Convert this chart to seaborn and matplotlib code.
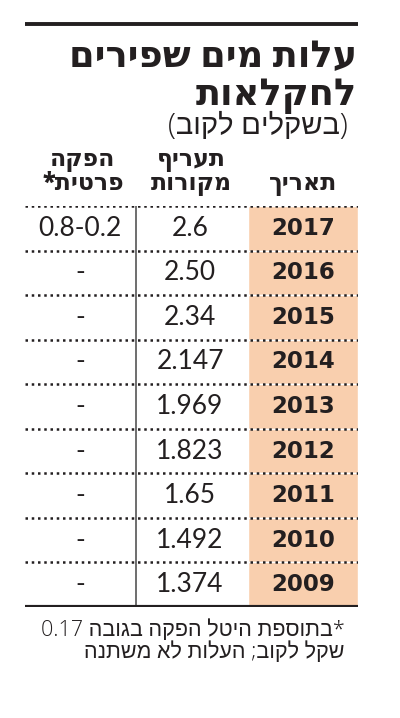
import re
import matplotlib
matplotlib.use("Agg")
import matplotlib.pyplot as plt
import seaborn as sns

# table data (logical Hebrew order, flipped for display below)
years = ["2017", "2016", "2015", "2014", "2013", "2012", "2011", "2010", "2009"]
tariff = ["2.6", "2.50", "2.34", "2.147", "1.969", "1.823", "1.65", "1.492", "1.374"]
private = ["0.2-0.8", "-", "-", "-", "-", "-", "-", "-", "-"]

title_lines = ["עלות מים שפירים", "לחקלאות"]
subtitle = "(בשקלים לקוב)"
col_headers = ["תאריך", "תעריף\nמקורות", "הפקה\nפרטית*"]
footnote = ["*בתוספת היטל הפקה בגובה 0.17", "שקל לקוב; העלות לא משתנה"]

MIRROR = str.maketrans("()", ")(")


def rtl(s):
    # matplotlib has no bidi support: reverse Hebrew runs, keep numbers
    toks = re.findall(r"[0-9][0-9.]*|[^0-9]+", s)
    out = []
    for t in reversed(toks):
        out.append(t if t[0].isdigit() else t[::-1].translate(MIRROR))
    return "".join(out)


sns.set_theme(style="white")
plt.rcParams["font.family"] = ["DejaVu Sans"]
heavy = ["Open Sans", "DejaVu Sans"]
light = ["Open Sans", "Liberation Sans", "DejaVu Sans"]
nums = ["Lato", "DejaVu Sans"]

ink = "#231f20"
peach = "#f9cfae"

fig = plt.figure(figsize=(4, 7.18), dpi=100)
ax = fig.add_axes([0, 0, 1, 1])
ax.set_xlim(0, 400)
ax.set_ylim(718, 0)
ax.axis("off")

# top rule
ax.plot([25, 358], [24, 24], color=ink, lw=2.8, solid_capstyle="butt")

# title
ax.text(357, 58, rtl(title_lines[0]), ha="right", va="center",
        fontsize=26.5, fontweight=800, family=heavy, color=ink)
ax.text(357, 95, rtl(title_lines[1]), ha="right", va="center",
        fontsize=26.5, fontweight=800, family=heavy, color=ink)
ax.text(348, 126, rtl(subtitle), ha="right", va="center",
        fontsize=21, fontweight="light", family=light, color=ink)

# column headers
hx = [303, 191, 83]
for x, h in zip(hx, col_headers):
    lines = h.split("\n")
    if len(lines) == 1:
        ax.text(x, 183, rtl(lines[0]), ha="center", va="center",
                fontsize=17, fontweight=800, family=heavy, color=ink)
    else:
        ax.text(x, 159, rtl(lines[0]), ha="center", va="center",
                fontsize=17, fontweight=800, family=heavy, color=ink)
        ax.text(x, 183, rtl(lines[1]), ha="center", va="center",
                fontsize=17, fontweight=800, family=heavy, color=ink)

# table body
tab = fig.add_axes([25 / 400, 1 - 607 / 718, 333 / 400, (607 - 206) / 718])
n = len(years)
tab.set_xlim(25, 358)
tab.set_ylim(n, 0)
tab.axis("off")
rows = [i + 0.5 for i in range(n)]
tab.barh(rows, width=110, left=248, height=1.0, color=peach, zorder=0)
tab.plot([136, 136], [0, n], color="#555555", lw=1.2, zorder=1)
for i in range(n):
    tab.plot([25, 358], [i, i], color=ink, lw=1.8,
             linestyle=(0, (1, 1.5)), zorder=2)
tab.plot([25, 358], [n, n], color=ink, lw=3, solid_capstyle="butt", zorder=3)

for y, yr, t, p in zip(rows, years, tariff, private):
    tab.text(303, y, yr, ha="center", va="center", fontsize=16.5,
             fontweight="bold", family=["DejaVu Sans"], color=ink)
    tab.text(190, y, t, ha="center", va="center", fontsize=19,
             fontweight="normal", family=nums, color=ink)
    tab.text(80, y, rtl(p), ha="center", va="center", fontsize=19,
             fontweight="normal", family=nums, color=ink)

# footnote
ax.text(345, 630, rtl(footnote[0]), ha="right", va="center",
        fontsize=15.5, fontweight="light", family=light, color=ink)
ax.text(345, 652, rtl(footnote[1]), ha="right", va="center",
        fontsize=15.5, fontweight="light", family=light, color=ink)

fig.savefig("out.png", dpi=100, facecolor="white")
